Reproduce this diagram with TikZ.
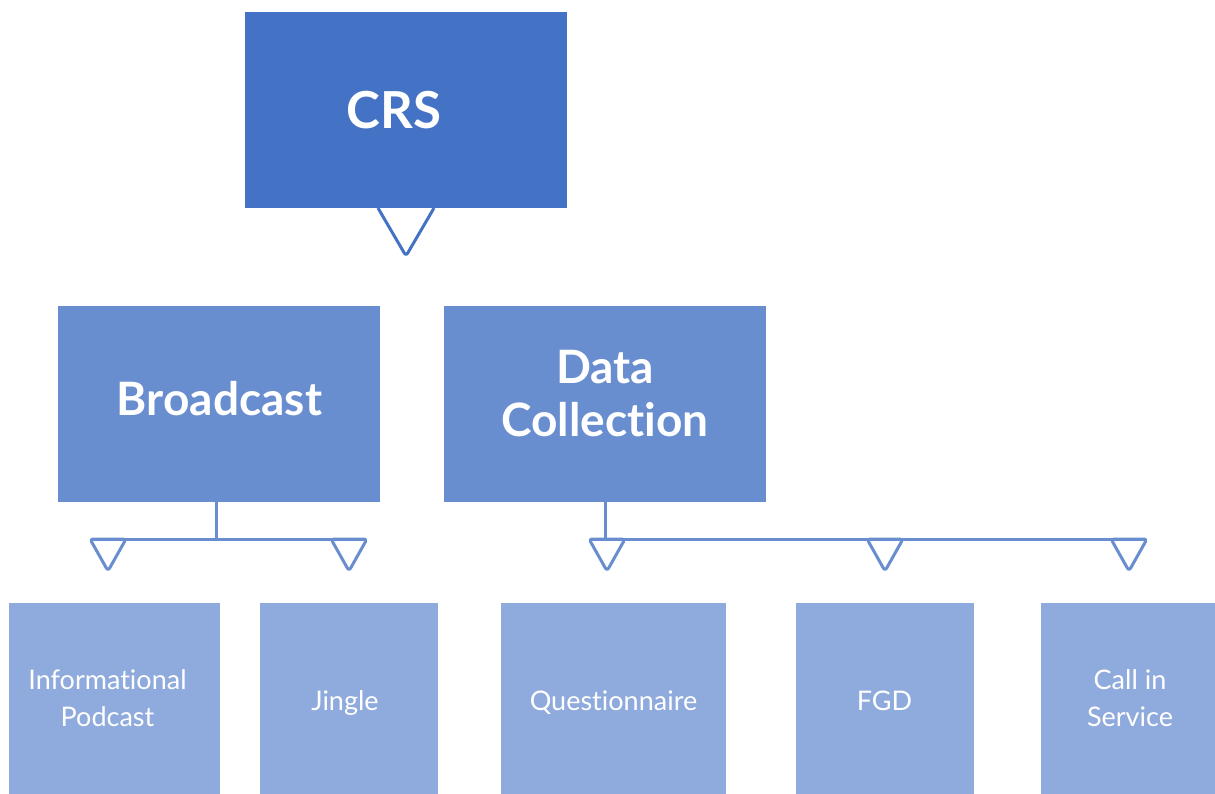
\documentclass[tikz,border=0pt]{standalone}
\usepackage{fontspec}
\setmainfont{Lato}[Ligatures=NoCommon]
\usetikzlibrary{calc}
\definecolor{cA}{HTML}{4472C4}
\definecolor{cB}{HTML}{698ED0}
\definecolor{cC}{HTML}{8FAADC}
\begin{document}
\begin{tikzpicture}[x=1pt,y=-1pt,
  boxA/.style={fill=cA, minimum width=322pt, minimum height=196pt, inner sep=0pt},
  boxB/.style={fill=cB, minimum width=322pt, minimum height=196pt, inner sep=0pt},
  boxC/.style={fill=cC, minimum height=191pt, inner sep=0pt},
  txtA/.style={text=white, font=\bfseries\fontsize{51}{56}\selectfont, inner sep=0pt, align=center},
  txtB/.style={text=white, font=\bfseries\fontsize{46}{53}\selectfont, inner sep=0pt, align=center},
  txtC/.style={text=white, font=\fontsize{27}{37}\selectfont, inner sep=0pt, align=center},
  connA/.style={draw=cA, line width=3pt, line join=round, rounded corners=3pt},
  connB/.style={draw=cB, line width=3pt, line join=round},
  triB/.style={draw=cB, line width=3pt, line join=round, rounded corners=3pt}
]
\useasboundingbox (0,0) rectangle (1215,794);
\fill[white] (0,0) rectangle (1215,794);
% boxes
\node[boxA] (crs) at (406,110) {};
\node[boxB] (bc) at (219,404) {};
\node[boxB] (dc) at (605,404) {};
\node[boxC, minimum width=211pt] (ip) at (114.5,698.5) {};
\node[boxC, minimum width=178pt] (jg) at (349,698.5) {};
\node[boxC, minimum width=225pt] (qn) at (613.5,698.5) {};
\node[boxC, minimum width=178pt] (fg) at (885,698.5) {};
\node[boxC, minimum width=174pt] (cs) at (1128,698.5) {};
% texts
\node[txtA] (crsT) at (394,110) {CRS};
\node[txtB] (bcT) at (219.5,399) {Broadcast};
\node[txtB] (dcT) at (605,394) {Data\\Collection};
\node[txtC] (ipT) at (107.5,698) {Informational\\Podcast};
\node[txtC, anchor=base] (jgT) at (345,710) {Jingle};
\node[txtC, anchor=base] (qnT) at (613.5,710) {Questionnaire};
\node[txtC, anchor=base] (fgT) at (884.5,710) {FGD};
\node[txtC] (csT) at (1130,698) {Call in\\Service};
% triangle top centres
\coordinate (t0) at (406,208);
\coordinate (t1) at (108,539);
\coordinate (t2) at (349,539);
\coordinate (t3) at (607,539);
\coordinate (t4) at (885,539);
\coordinate (t5) at (1129,539);
% top triangle
\draw[connA] ($(t0)+(-28,0)$) -- ($(t0)+(0,48)$) -- ($(t0)+(28,0)$);
% broadcast connector
\coordinate (bj) at ($(bc.south |- t1)+(-3,0)$);
\draw[connB] ($(bc.south)+(-3,0)$) -- (bj);
\draw[connB] ($(t1)+(-16,0)$) -- ($(t2)+(16,0)$);
% data collection connector
\coordinate (dj) at (dc.south |- t3);
\draw[connB] (dc.south) -- (dj);
\draw[connB] ($(t3)+(-16,0)$) -- ($(t5)+(16,0)$);
% small triangles
\foreach \t in {t1,t2,t3,t4,t5}{
  \draw[triB] ($(\t)+(-18,0)$) -- ($(\t)+(18,0)$) -- ($(\t)+(0,32)$) -- cycle;
}
\end{tikzpicture}
\end{document}
